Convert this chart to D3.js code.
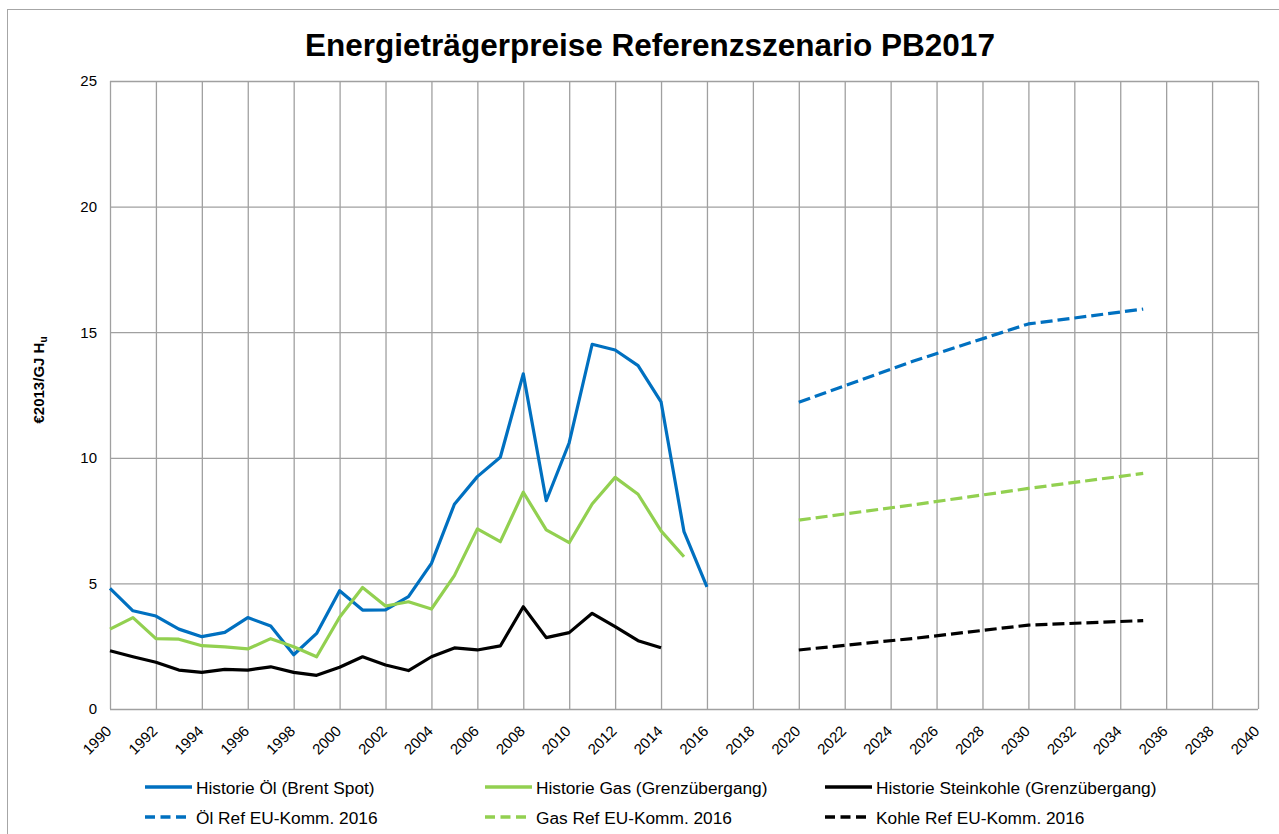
<!DOCTYPE html>
<html lang="de">
<head>
<meta charset="utf-8">
<title>Energieträgerpreise Referenzszenario PB2017</title>
<script src="https://d3js.org/d3.v7.min.js"></script>
<style>
  body { margin: 0; background: #fff; }
  text { font-family: "Liberation Sans", Arial, sans-serif; }
</style>
</head>
<body>
<script>
// --- data (€2013/GJ Hu) ---
var histYears = d3.range(1990, 2017);
var oilHist = [4.80, 3.91, 3.70, 3.18, 2.88, 3.05, 3.64, 3.30, 2.16, 3.01, 4.71, 3.94, 3.95, 4.47, 5.80,
               8.15, 9.25, 10.02, 13.34, 8.29, 10.60, 14.52, 14.29, 13.67, 12.23, 7.06, 4.86];
var gasHist = [3.18, 3.64, 2.80, 2.78, 2.52, 2.47, 2.39, 2.80, 2.48, 2.08, 3.65, 4.84, 4.10, 4.27, 3.98,
               5.31, 7.17, 6.66, 8.63, 7.13, 6.62, 8.16, 9.22, 8.55, 7.09, 6.06];
var coalHist = [2.32, 2.08, 1.86, 1.55, 1.46, 1.58, 1.55, 1.68, 1.46, 1.34, 1.66, 2.08, 1.75, 1.53, 2.08,
                2.43, 2.35, 2.51, 4.07, 2.84, 3.04, 3.81, 3.28, 2.72, 2.44];

var refYears = [2020, 2025, 2030, 2035];
var oilRef = [12.21, 13.85, 15.33, 15.92];
var gasRef = [7.52, 8.13, 8.78, 9.38];
var coalRef = [2.35, 2.81, 3.34, 3.52];

var xTicks = d3.range(1990, 2041, 2);
var yTicks = [0, 5, 10, 15, 20, 25];

var seriesNames = ["Historie Öl (Brent Spot)", "Historie Gas (Grenzübergang)", "Historie Steinkohle (Grenzübergang)",
                   "Öl Ref EU-Komm. 2016", "Gas Ref EU-Komm. 2016", "Kohle Ref EU-Komm. 2016"];

var blue = "#0070c0", green = "#92d050", black = "#000000";

var series = [
  { name: seriesNames[0], years: histYears, values: oilHist, color: blue, dash: null },
  { name: seriesNames[1], years: histYears, values: gasHist, color: green, dash: null },
  { name: seriesNames[2], years: histYears, values: coalHist, color: black, dash: null },
  { name: seriesNames[3], years: refYears, values: oilRef, color: blue, dash: "12,5" },
  { name: seriesNames[4], years: refYears, values: gasRef, color: green, dash: "12,5" },
  { name: seriesNames[5], years: refYears, values: coalRef, color: black, dash: "12,5" }
];

var w = 1279, h = 834;
var plotLeft = 110, plotRight = 1258, plotTop = 81, plotBottom = 709;

var svg = d3.select("body").append("svg")
  .attr("width", w)
  .attr("height", h);

// outer chart border
svg.append("rect")
  .attr("x", 7.5).attr("y", 9.5)
  .attr("width", w + 20).attr("height", h + 20)
  .attr("fill", "none").attr("stroke", "#a6a6a6").attr("stroke-width", 1);

var xScale = d3.scaleLinear().domain([1990, 2040]).range([plotLeft, plotRight]);
var yScale = d3.scaleLinear().domain([0, 25]).range([plotBottom, plotTop]);

// gridlines
svg.append("g")
  .attr("transform", "translate(0," + plotBottom + ")")
  .call(d3.axisBottom(xScale).tickValues(xTicks).tickSize(-(plotBottom - plotTop)).tickFormat(""))
  .call(function(g) {
    g.select(".domain").remove();
    g.selectAll("line").attr("stroke", "#a0a0a0").attr("stroke-width", 1.3);
  });

svg.append("g")
  .attr("transform", "translate(" + plotLeft + ",0)")
  .call(d3.axisLeft(yScale).tickValues(yTicks).tickSize(-(plotRight - plotLeft)).tickFormat(""))
  .call(function(g) {
    g.select(".domain").remove();
    g.selectAll("line").attr("stroke", "#a0a0a0").attr("stroke-width", 1.3);
  });

// y tick labels
svg.append("g")
  .attr("transform", "translate(" + plotLeft + ",0)")
  .call(d3.axisLeft(yScale).tickValues(yTicks).tickSize(0).tickPadding(13))
  .call(function(g) {
    g.select(".domain").remove();
    g.selectAll("text").attr("font-size", "15px").attr("fill", "#000")
      .style("font-family", "'Liberation Sans', Arial, sans-serif");
  });

// x tick labels, rotated
svg.append("g")
  .attr("transform", "translate(0," + plotBottom + ")")
  .call(d3.axisBottom(xScale).tickValues(xTicks).tickSize(0).tickFormat(d3.format("d")))
  .call(function(g) {
    g.select(".domain").remove();
    g.selectAll("text")
      .attr("font-size", "15px").attr("fill", "#000")
      .style("font-family", "'Liberation Sans', Arial, sans-serif")
      .attr("text-anchor", "end")
      .attr("dy", null).attr("y", null)
      .attr("transform", "translate(2,23) rotate(-45)");
  });

// lines
var line = d3.line()
  .x(function(d) { return xScale(d[0]); })
  .y(function(d) { return yScale(d[1]); });

svg.selectAll("path.series")
  .data(series)
  .enter()
  .append("path")
  .attr("class", "series")
  .attr("fill", "none")
  .attr("stroke", function(d) { return d.color; })
  .attr("stroke-width", 3.2)
  .attr("stroke-linejoin", "round")
  .attr("stroke-dasharray", function(d) { return d.dash; })
  .attr("d", function(d) { return line(d.values.map(function(v, i) { return [d.years[i], v]; })); });

// title
svg.append("text")
  .attr("x", 650).attr("y", 56)
  .attr("text-anchor", "middle")
  .attr("font-size", "31.5px")
  .attr("font-weight", "bold")
  .text("Energieträgerpreise Referenzszenario PB2017");

// y axis title
var yt = svg.append("text")
  .attr("transform", "translate(44,380) rotate(-90)")
  .attr("text-anchor", "middle")
  .attr("font-size", "15px")
  .attr("font-weight", "bold");
yt.append("tspan").text("€2013/GJ H");
yt.append("tspan").attr("font-size", "10px").attr("dy", 3).text("u");

// legend
var legX = [145, 485, 825];
var legY = [787, 817];
var leg = svg.selectAll("g.leg")
  .data(series)
  .enter()
  .append("g")
  .attr("class", "leg")
  .attr("transform", function(d, i) { return "translate(" + legX[i % 3] + "," + legY[Math.floor(i / 3)] + ")"; });

leg.append("line")
  .attr("x1", 0).attr("x2", function(d) { return d.dash ? 41 : 47; })
  .attr("y1", 0).attr("y2", 0)
  .attr("stroke", function(d) { return d.color; })
  .attr("stroke-width", 3.3)
  .attr("stroke-dasharray", function(d) { return d.dash ? "10,5.5" : null; });

leg.append("text")
  .attr("x", 51)
  .attr("y", 7)
  .attr("font-size", "17.3px")
  .text(function(d) { return d.name; });
</script>
</body>
</html>
